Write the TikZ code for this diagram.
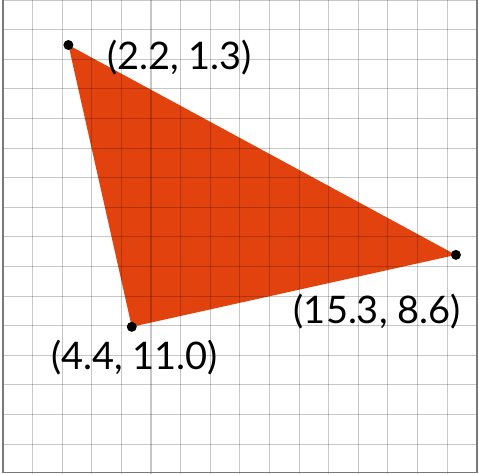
\documentclass[tikz,border=0pt]{standalone}
\usepackage{fontspec}
\setmainfont{Lato}
\definecolor{trifill}{RGB}{226,66,14}
\definecolor{edgegray}{RGB}{120,120,120}
\tikzset{
  gridline/.style={draw=black, draw opacity=0.22, line width=1pt},
  edgeline/.style={draw=edgegray, line width=1.8pt},
  ptlabel/.style={font=\fontsize{36.5}{40}\selectfont, inner sep=0pt}
}

\begin{document}
\begin{tikzpicture}[x=1cm, y=-1cm, line width=0.5pt]
  \useasboundingbox (-0.101,0) rectangle (16.08,16.01);
  \coordinate (A) at (2.21,1.52);
  \coordinate (B) at (4.35,11.04);
  \coordinate (C) at (15.3,8.61);
  \fill[trifill] (A) -- (C) -- (B) -- cycle;
  \foreach \x in {1,...,15} { \draw[gridline] (\x,0) -- (\x,16); }
  \foreach \y in {0,...,15} { \draw[gridline] (0,\y) -- (16,\y); }
  \draw[edgeline] (0,0) -- (0,15.96) -- (16,15.96) -- (16,0);
  \fill (A) circle (4.8pt);
  \node[ptlabel, anchor=west] (labA) at (3.51,1.96) {(2.2, 1.3)};
  \fill (B) circle (4.8pt);
  \node[ptlabel] (labB) at (4.44,12.09) {(4.4, 11.0)};
  \fill (C) circle (4.8pt);
  \node[ptlabel] (labC) at (12.64,10.54) {(15.3, 8.6)};
\end{tikzpicture}
\end{document}
